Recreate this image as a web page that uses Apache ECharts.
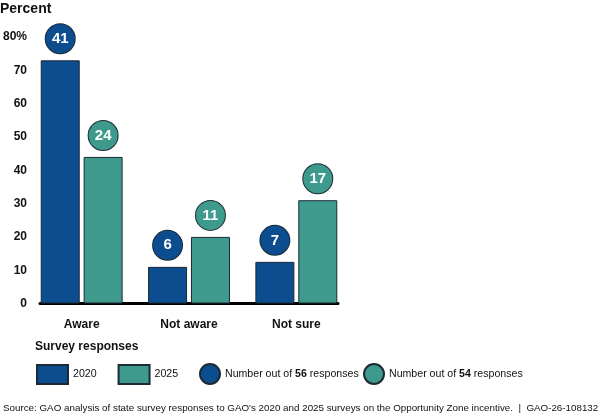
<!DOCTYPE html>
<html>
<head>
<meta charset="utf-8">
<script src="https://cdn.jsdelivr.net/npm/echarts@6/dist/echarts.min.js"></script>
<style>
  html, body { margin: 0; padding: 0; background: #fff; }
  #chart { width: 600px; height: 420px; }
</style>
</head>
<body>
<div id="chart"></div>
<script>
var categories = ['Aware', 'Not aware', 'Not sure'];
var pct2020 = [73, 11, 12.5];
var pct2025 = [44, 20, 31];
var count2020 = [41, 6, 7];
var count2025 = [24, 11, 17];
var yTicks = ['0', '10', '20', '30', '40', '50', '60', '70', '80%'];

var blue = '#0c4d90', teal = '#3e9a8d', edge = '#1d2a33';
var font = '"Liberation Sans", Arial, sans-serif';

function circleLabel(color, counts) {
    return {
        show: true,
        position: 'top',
        distance: 7,
        formatter: function (p) { return counts[p.dataIndex]; },
        color: '#fff',
        fontFamily: font,
        fontWeight: 'bold',
        fontSize: 15,
        backgroundColor: color,
        borderColor: edge,
        borderWidth: 1,
        borderRadius: 15,
        width: 29,
        height: 29,
        lineHeight: 29,
        align: 'center'
    };
}

// one legend per circle so each sits where the reference puts it
function circleLegend(name, left) {
    return {
        data: [name],
        left: left, top: 363, padding: 0,
        itemWidth: 20, itemHeight: 20,
        icon: 'circle',
        selectedMode: false,
        formatter: function (n) {
            var num = n.match(/\d+/)[0];
            return '{a|Number out of }{b|' + num + '}{a| responses}';
        },
        textStyle: {
            fontFamily: font,
            rich: {
                a: { fontSize: 10.6, color: '#111', fontFamily: font },
                b: { fontSize: 10.6, color: '#111', fontWeight: 'bold', fontFamily: font }
            }
        }
    };
}

var chart = echarts.init(document.getElementById('chart'));
var option = {
    animation: false,
    textStyle: { fontFamily: font },
    title: [
        { text: 'Percent', left: 0, top: 2, padding: 0,
          textStyle: { fontSize: 14, fontWeight: 'bold', color: '#111', fontFamily: font } },
        { text: 'Survey responses', left: 35, top: 341, padding: 0,
          textStyle: { fontSize: 12, fontWeight: 'bold', color: '#111', fontFamily: font } },
        { text: "Source: GAO analysis of state survey responses to GAO's 2020 and 2025 surveys on the Opportunity Zone incentive.  |  GAO-26-108132",
          left: 3, top: 403, padding: 0,
          textStyle: { fontSize: 9.8, fontWeight: 'normal', color: '#111', fontFamily: font } }
    ],
    legend: [
        {
            data: ['2020', '2025'],
            left: 36, top: 364, padding: 0,
            itemWidth: 31, itemHeight: 19,
            itemGap: 21,
            icon: 'rect',
            textStyle: { fontSize: 10.6, color: '#111', fontFamily: font },
            selectedMode: false
        },
        circleLegend('Number out of 56 responses', 199),
        circleLegend('Number out of 54 responses', 363)
    ],
    grid: [
        { left: 28, right: 250, top: 37, bottom: 116.5 },
        { left: 40, right: 262, top: 37, bottom: 116.5 }
    ],
    xAxis: [
        {
            type: 'category', gridIndex: 0, data: categories,
            axisLine: { show: false }, axisTick: { show: false },
            axisLabel: { margin: 15, fontSize: 12, fontWeight: 'bold', color: '#111', fontFamily: font }
        },
        {
            type: 'category', gridIndex: 1, data: categories,
            axisLine: { show: true, lineStyle: { color: '#000', width: 3 } },
            axisTick: { show: false }, axisLabel: { show: false }
        }
    ],
    yAxis: [
        {
            type: 'value', gridIndex: 0, min: 0, max: 80, interval: 10,
            axisLine: { show: false }, axisTick: { show: false }, splitLine: { show: false },
            axisLabel: {
                margin: 1, fontSize: 12, fontWeight: 'bold', color: '#111', fontFamily: font,
                formatter: function (v) { return yTicks[v / 10]; }
            }
        },
        { type: 'value', gridIndex: 1, min: 0, max: 80, show: false }
    ],
    series: [
        {
            name: '2020', type: 'bar', data: pct2020,
            barWidth: 39, barGap: '10%',
            itemStyle: { color: blue, borderColor: edge, borderWidth: 1 },
            label: circleLabel(blue, count2020)
        },
        {
            name: '2025', type: 'bar', data: pct2025,
            barWidth: 39, barGap: '10%',
            itemStyle: { color: teal, borderColor: edge, borderWidth: 1 },
            label: circleLabel(teal, count2025)
        },
        {
            name: 'Number out of 56 responses', type: 'scatter', data: [],
            itemStyle: { color: blue, borderColor: edge, borderWidth: 1, opacity: 1 }
        },
        {
            name: 'Number out of 54 responses', type: 'scatter', data: [],
            itemStyle: { color: teal, borderColor: edge, borderWidth: 1, opacity: 1 }
        }
    ]
};
chart.setOption(option);
</script>
</body>
</html>
